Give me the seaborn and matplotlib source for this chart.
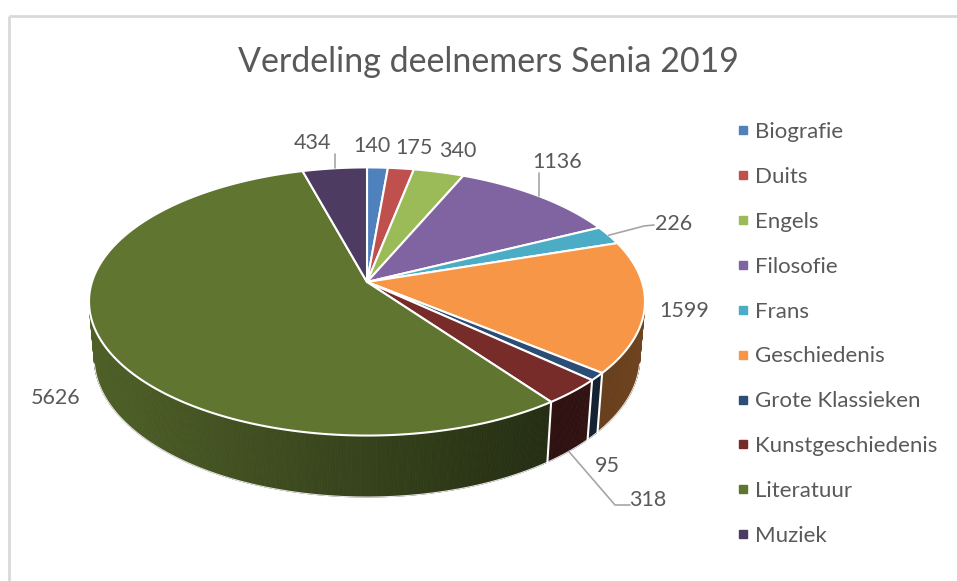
import numpy as np
import matplotlib
matplotlib.use("Agg")
import matplotlib.pyplot as plt
from matplotlib.lines import Line2D
from matplotlib.colors import to_rgb
import seaborn as sns

# Data
categories = ['Biografie', 'Duits', 'Engels', 'Filosofie', 'Frans', 'Geschiedenis',
              'Grote Klassieken', 'Kunstgeschiedenis', 'Literatuur', 'Muziek']
participants = [140, 175, 340, 1136, 226, 1599, 95, 318, 5626, 434]
slice_colors = ['#4F81BD', '#C0504D', '#9BBB59', '#8064A2', '#4BACC6', '#F79646',
                '#2C4D75', '#772C2A', '#5F7530', '#4D3B62']
title = 'Verdeling deelnemers Senia 2019'

sns.set_style('white')
plt.rcParams['font.family'] = ['Lato', 'DejaVu Sans']
text_color = '#595959'
palette = sns.color_palette(slice_colors)

# Camera for the tilted 3D pie (world radius = 1, screen in pixels)
cx, cy = 367, 282
focal = 1664
dist = 6.05
elev = np.deg2rad(28.5)
thick = 0.234


def project(theta, depth=0.0):
    # theta runs clockwise from the back of the pie
    x = np.sin(theta)
    z = -np.cos(theta)
    y = -depth
    d = dist - (y * np.sin(elev) + z * np.cos(elev))
    v = z * np.sin(elev) - y * np.cos(elev)
    return cx + focal * x / d, cy + focal * v / d


def shade(u):
    # darker towards the right hand side of the rim
    return np.interp(u, [-1, 0.7, 1], [0.82, 0.38, 0.45])


values = np.array(participants, dtype=float)
edges = np.concatenate([[0], np.cumsum(values)]) / values.sum() * 2 * np.pi
mids = (edges[:-1] + edges[1:]) / 2

fig = plt.figure(figsize=(9.57, 5.81), dpi=100)
ax = fig.add_axes([0, 0, 1, 1])
ax.set_xlim(0, 957)
ax.set_ylim(581, 0)
ax.axis('off')

# chart border
ax.plot([8.5, 8.5], [581, 15.5], color='#d9d9d9', lw=2, solid_capstyle='butt')
ax.plot([8.5, 957], [15.5, 15.5], color='#d9d9d9', lw=2, solid_capstyle='butt')

# visible part of the rim
t_lo = np.arccos(-1 / (dist * np.cos(elev)))
t_hi = 2 * np.pi - t_lo

for i, col in enumerate(palette):
    a0, a1 = max(edges[i], t_lo), min(edges[i + 1], t_hi)
    if a1 <= a0:
        continue
    ts = np.linspace(a0, a1, max(2, int(np.degrees(a1 - a0) / 0.5) + 2))
    base = np.array(to_rgb(col))
    for t0, t1 in zip(ts[:-1], ts[1:]):
        xa, ya = project(t0)
        xb, yb = project(t1)
        xc, yc = project(t1, thick)
        xd, yd = project(t0, thick)
        u = ((xa + xb) / 2 - cx) / 275
        c = np.clip(base * shade(u), 0, 1)
        ax.fill([xa, xb, xc, xd], [ya, yb, yc, yd], color=c, lw=0.6, zorder=2)

# outline of the bottom of the rim
ts = np.linspace(t_lo, t_hi, 200)
bx, by = project(ts, thick)
ax.plot(bx, by, color='#e6e6e6', lw=0.8, zorder=3)

# white separators on the rim
for e in edges:
    if t_lo < e < t_hi:
        x0, y0 = project(e)
        x1, y1 = project(e, thick)
        ax.plot([x0, x1], [y0, y1], color='white', lw=1.5, zorder=3)

# top faces
for i, col in enumerate(palette):
    ts = np.linspace(edges[i], edges[i + 1], max(3, int(np.degrees(edges[i + 1] - edges[i])) + 3))
    px, py = project(ts)
    ax.fill(np.concatenate([[cx], px]), np.concatenate([[cy], py]),
            facecolor=col, edgecolor='white', lw=1.5, joinstyle='round', zorder=4)

# data labels (text centres in pixels)
label_xy = {
    'Biografie': (372, 146), 'Duits': (414, 148), 'Engels': (458, 151),
    'Filosofie': (557, 162), 'Frans': (674, 224), 'Geschiedenis': (684, 311),
    'Grote Klassieken': (607, 466), 'Kunstgeschiedenis': (648, 500),
    'Literatuur': (56, 398), 'Muziek': (313, 143),
}
leader_col = '#a6a6a6'
for i, name in enumerate(categories):
    lx, ly = label_xy[name]
    ax.text(lx, ly, f'{participants[i]}', ha='center', va='center',
            fontsize=15.5, color=text_color, zorder=6)

# leader lines
for name in ['Muziek', 'Filosofie']:
    i = categories.index(name)
    rx, ry = project(mids[i])
    ax.plot([rx, rx], [ry, label_xy[name][1] + 11], color=leader_col, lw=1.2, zorder=5)

i = categories.index('Frans')
rx, ry = project(mids[i])
lx, ly = label_xy['Frans']
ax.plot([rx, lx - 30, lx - 20], [ry, ly + 2, ly + 1], color=leader_col, lw=1.2, zorder=5)

i = categories.index('Kunstgeschiedenis')
rx, ry = project(mids[i], thick)
lx, ly = label_xy['Kunstgeschiedenis']
ax.plot([rx, lx - 33, lx - 18], [ry, ly + 5, ly + 5], color=leader_col, lw=1.2, zorder=5)

# title
ax.text(488, 72, title, ha='center', va='baseline', fontsize=24.5, color=text_color)

# legend
handles = [Line2D([], [], marker='s', linestyle='', color=c, markersize=6) for c in palette]
ax.legend(handles, categories, loc='upper left', bbox_to_anchor=(737 / 957, 1 - 122 / 581),
          frameon=False, fontsize=16, labelcolor=text_color, handlelength=0.5,
          handletextpad=0.3, labelspacing=1.12, borderpad=0, borderaxespad=0)

fig.savefig('out.png', dpi=100)
